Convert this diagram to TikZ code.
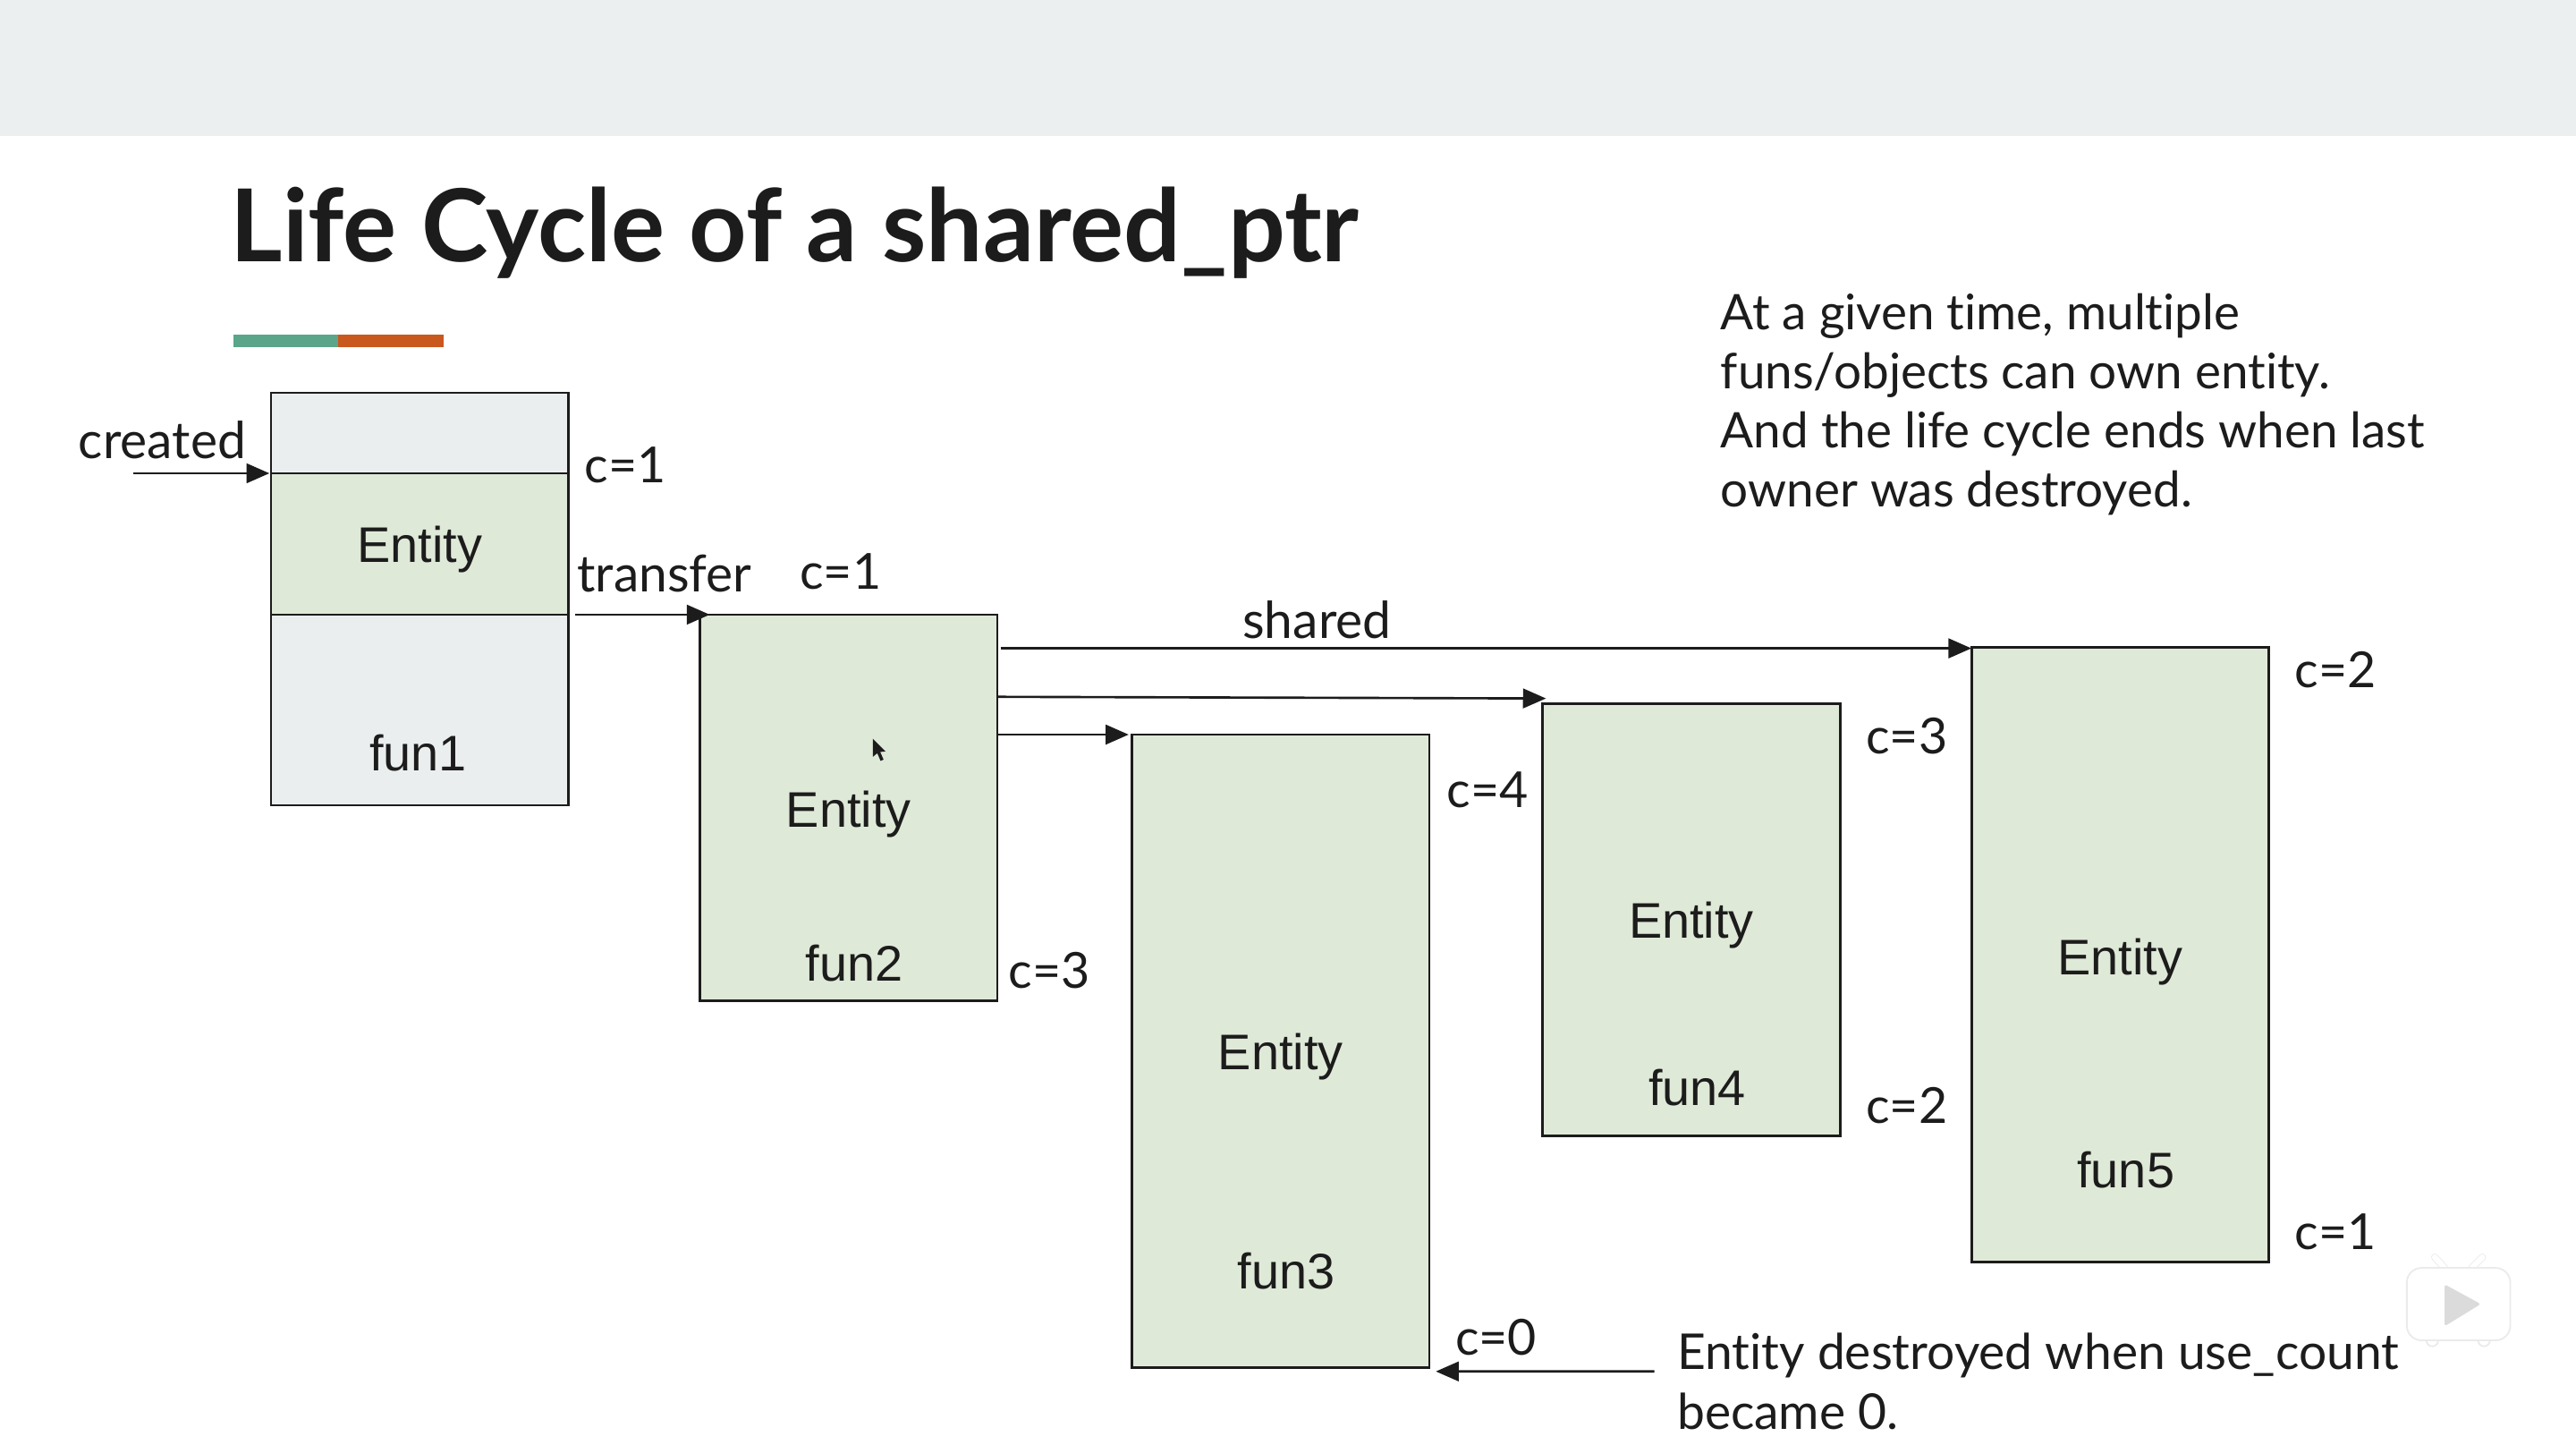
\documentclass[tikz,border=0pt]{standalone}
\usepackage{fontspec}
\setmainfont{Lato}[Ligatures=NoCommon]
\newfontfamily\boxfont{Liberation Sans}
\usetikzlibrary{arrows.meta}
\definecolor{ink}{HTML}{1C1C1C}
\definecolor{band}{HTML}{ECEFEF}
\definecolor{boxgreen}{HTML}{DFE9D7}
\definecolor{boxgrey}{HTML}{EBEEEF}
\definecolor{barteal}{HTML}{5BA58A}
\definecolor{barorange}{HTML}{C9581F}
\def\uu{0.018367cm}
\tikzset{
  stage/.style={draw=ink, line width=0.8pt, inner sep=0pt, outer sep=0pt, minimum width=181*\uu, anchor=north west, fill=boxgreen},
  flow/.style={draw=ink, line width=0.75pt, -{Triangle[length=7.3pt,width=6.2pt]}, shorten >=0pt},
  boxtext/.style={font=\boxfont\fontsize{15.9pt}{18pt}\selectfont, text=ink, inner sep=0pt, anchor=base},
  note/.style={font=\fontsize{15.8pt}{18.8pt}\selectfont, text=ink, inner sep=0pt, anchor=base west},
  verb/.style={font=\fontsize{16.2pt}{18.8pt}\selectfont, text=ink, inner sep=0pt, anchor=base west},
  para/.style={font=\fontsize{15.6pt}{18.8pt}\selectfont, text=ink, inner sep=0pt, anchor=north west, align=left},
  paralow/.style={para, font=\fontsize{15.7pt}{18.8pt}\selectfont},
}
\begin{document}
\begin{tikzpicture}[x=\uu, y=-\uu]
\useasboundingbox (0,0) rectangle (1568,878.8);
\fill[white] (0,0) rectangle (1568,878.8);
\fill[band] (0,0) rectangle (1568,83);
\node[font=\bfseries\fontsize{32pt}{36pt}\selectfont, text=ink, inner sep=0pt, anchor=base west] (title) at (140,159.5) {Life Cycle of a shared\_ptr};
\fill[barteal] (142,203.5) rectangle (206,211);
\fill[barorange] (206,203.5) rectangle (270,211);

% stages
\node[stage, fill=boxgrey, minimum height=251*\uu] (b1) at (165,239) {};
\node[stage, minimum height=86*\uu] (ent1) at (165,288) {};
\node[stage, minimum height=235*\uu] (b2) at (426,374) {};
\node[stage, minimum height=385*\uu] (b3) at (689,447) {};
\node[stage, minimum height=263*\uu] (b4) at (939,428) {};
\node[stage, minimum height=374*\uu] (b5) at (1200,394) {};

% box labels
\node[boxtext] (e1) at (255.5,342) {Entity};
\node[boxtext] (f1) at (254.5,469) {fun1};
\node[boxtext] (e2) at (516.5,503.5) {Entity};
\node[boxtext] (f2) at (520,597) {fun2};
\node[boxtext] (e3) at (779.5,651) {Entity};
\node[boxtext] (f3) at (783,784) {fun3};
\node[boxtext] (e4) at (1029.5,571) {Entity};
\node[boxtext] (f4) at (1033,672.5) {fun4};
\node[boxtext] (e5) at (1290.5,593) {Entity};
\node[boxtext] (f5) at (1294,722.5) {fun5};

% notes
\node[verb] (created) at (47.5,279) {created};
\node[verb] (transfer) at (351,360) {transfer};
\node[verb] (shared) at (756,388.5) {shared};
\node[note] (c1) at (355.5,293.5) {c=1};
\node[note] (c2) at (486.5,358.5) {c=1};
\node[note] (c3) at (613.5,601.5) {c=3};
\node[note] (c4) at (880.5,491.5) {c=4};
\node[note] (c5) at (1135.5,458.5) {c=3};
\node[note] (c6) at (1135.5,683.5) {c=2};
\node[note] (c7) at (1396.5,418.5) {c=2};
\node[note] (c8) at (1396.5,760.5) {c=1};
\node[note] (c9) at (885.5,824.5) {c=0};
\node[para] (txt1) at (1047,178) {At a given time, multiple\\funs/objects can own entity.\\And the life cycle ends when last\\owner was destroyed.};
\node[paralow] (txt2) at (1020.5,811) {Entity destroyed when use\_count\\became 0.};

% connectors
\coordinate (startc) at (81,288);
\coordinate (startd) at (1007,834.5);
\draw[flow] (startc) -- ([xshift=-1*\uu]ent1.north west);
\draw[flow] ([xshift=4*\uu]ent1.south east) -- ([xshift=6*\uu]b2.north west);
\draw[flow] ([shift={(2,20.5)}]b2.north east) -- ([yshift=-0.5*\uu]b5.north west);
\draw[flow] ([shift={(0,50)}]b2.north east) -- ([shift={(2,-3)}]b4.north west);
\draw[flow] ([shift={(0,73)}]b2.north east) -- ([xshift=-2*\uu]b3.north west);
\draw[flow] (startd) -- ([shift={(4,2.5)}]b3.south east);

% mouse pointer
\fill[ink] (531.3,449.5) -- (531.3,460.5) -- (534,458.3) -- (536,463) -- (537.8,462.2) -- (535.8,457.6) -- (539,457.2) -- cycle;

% player watermark
\begin{scope}[line cap=round]
\draw[black!8, line width=4.4*\uu] (1482,765) -- (1488,771.5) (1511,765) -- (1504.5,771.5);
\draw[black!8, line width=1*\uu, fill=white] (1480.5,815.6) circle[radius=3.6*\uu] (1512,815.6) circle[radius=3.6*\uu];
\draw[white, line width=3.4*\uu] (1482,765) -- (1488,771.5) (1511,765) -- (1504.5,771.5);
\draw[black!8, line width=1*\uu, fill=white, rounded corners=9*\uu] (1465,771.5) rectangle (1528,815.6);
\fill[black!14, rounded corners=1.5*\uu] (1488,781.5) -- (1510,793.5) -- (1488,807) -- cycle;
\end{scope}
\end{tikzpicture}
\end{document}
